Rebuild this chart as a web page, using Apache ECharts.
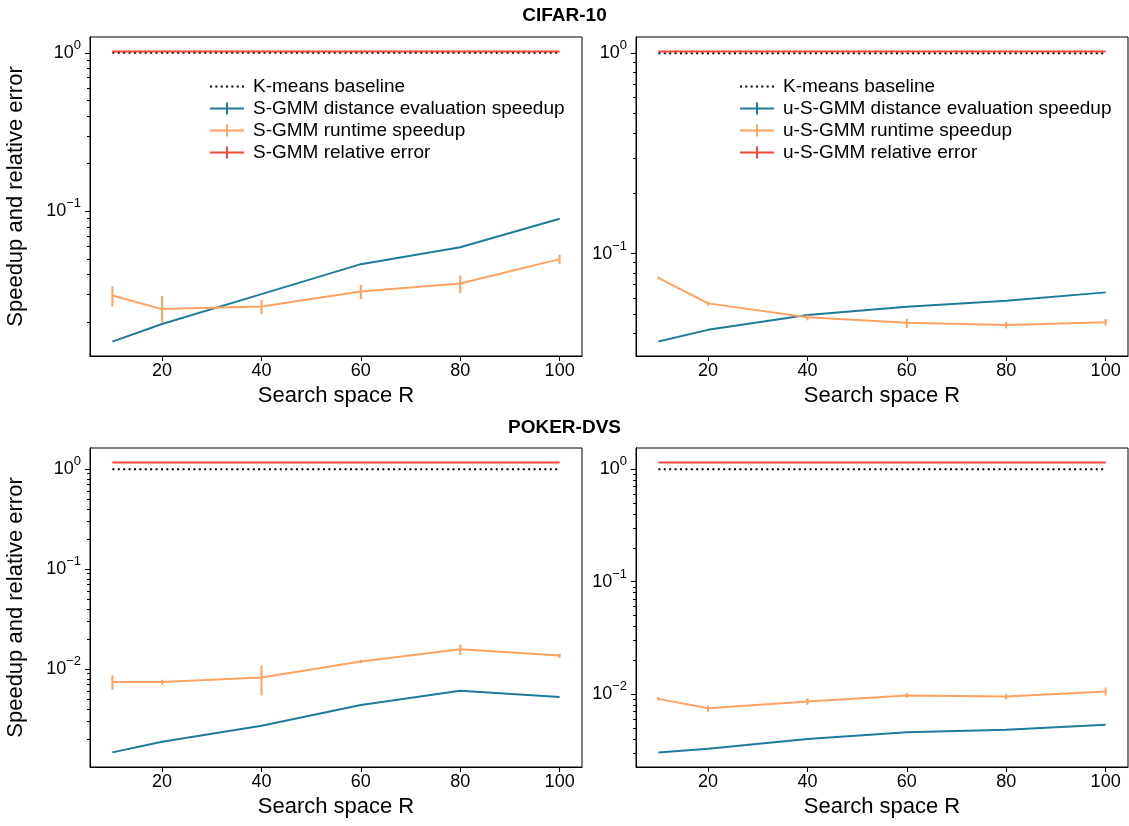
<!DOCTYPE html>
<html><head><meta charset="utf-8">
<script src="https://cdn.jsdelivr.net/npm/echarts@6/dist/echarts.min.js"></script>
<style>html,body{margin:0;padding:0;background:#fff}#c{width:1129px;height:826px}</style>
</head><body><div id="c"></div>
<script>
// ---------- data ----------
const R = [10, 20, 40, 60, 80, 100];
const xTicks = [20, 40, 60, 80, 100];
const yMajorTicks = [0.001, 0.01, 0.1, 1];
const yMinorTicks = [0.002, 0.003, 0.004, 0.005, 0.006, 0.007, 0.008, 0.009,
                     0.02, 0.03, 0.04, 0.05, 0.06, 0.07, 0.08, 0.09,
                     0.2, 0.3, 0.4, 0.5, 0.6, 0.7, 0.8, 0.9];
const baseline = [1, 1, 1, 1, 1, 1];

// CIFAR-10, S-GMM
const cifarSDist = [0.0151, 0.0195, 0.0301, 0.0465, 0.0595, 0.0899];
const cifarSRun = [0.0295, 0.0242, 0.0251, 0.0313, 0.0351, 0.0500];
const cifarSRunLo = [0.0251, 0.0199, 0.0225, 0.0280, 0.0305, 0.0467];
const cifarSRunHi = [0.0337, 0.0293, 0.0276, 0.0344, 0.0394, 0.0533];
const cifarSErr = [1.02, 1.02, 1.02, 1.02, 1.02, 1.02];
// CIFAR-10, u-S-GMM
const cifarUDist = [0.0364, 0.0416, 0.0493, 0.0543, 0.0581, 0.0640];
const cifarURun = [0.0757, 0.0564, 0.0481, 0.0452, 0.0440, 0.0454];
const cifarURunLo = [0.0745, 0.0549, 0.0464, 0.0425, 0.0423, 0.0437];
const cifarURunHi = [0.0769, 0.0577, 0.0495, 0.0473, 0.0455, 0.0471];
const cifarUErr = [1.02, 1.02, 1.02, 1.02, 1.02, 1.02];
// POKER-DVS, S-GMM
const pokerSDist = [0.00147, 0.00188, 0.00272, 0.00437, 0.00608, 0.00525];
const pokerSRun = [0.00742, 0.00742, 0.00826, 0.01193, 0.01584, 0.01369];
const pokerSRunLo = [0.00622, 0.00698, 0.00546, 0.01148, 0.0139, 0.01298];
const pokerSRunHi = [0.00865, 0.00783, 0.01088, 0.01239, 0.0175, 0.01433];
const pokerSErr = [1.166, 1.166, 1.166, 1.166, 1.166, 1.166];
// POKER-DVS, u-S-GMM
const pokerUDist = [0.00303, 0.00327, 0.00399, 0.00460, 0.00482, 0.00535];
const pokerURun = [0.00909, 0.00751, 0.00861, 0.00973, 0.00953, 0.01056];
const pokerURunLo = [0.00877, 0.00697, 0.00804, 0.00927, 0.00897, 0.00973];
const pokerURunHi = [0.00942, 0.00798, 0.00916, 0.01021, 0.01007, 0.01146];
const pokerUErr = [1.146, 1.146, 1.146, 1.146, 1.146, 1.146];

const yRanges = [[0.01225, 1.259], [0.0308, 1.205], [0.00105, 1.627], [0.002254, 1.542]];

// ---------- style ----------
const FONT = '"Liberation Sans", Arial, Helvetica, sans-serif';
const BLUE = '#1f7a9c', ORANGE = '#fea262', RED = '#f3473b', BLACK = '#000';
const grids = [
  {left: 90, top: 37, width: 492, height: 319},
  {left: 636, top: 37, width: 492, height: 319},
  {left: 90, top: 448, width: 492, height: 319},
  {left: 636, top: 448, width: 492, height: 319}
];
const CROSS = 'path://M0,5h34v2h-34z M16,0h2v12h-2z';
const DOTS = 'path://M0,0L0.01,0Z M34,12L34.01,12Z M0,5h2v2h-2z M5.4,5h2v2h-2z M10.8,5h2v2h-2z M16.2,5h2v2h-2z M21.6,5h2v2h-2z M27,5h2v2h-2z M32.4,5h2v2h-2z';

function pairs(a) { return R.map((r, i) => [r, a[i]]); }
function supLabel(v) {
  const e = Math.round(Math.log10(v));
  return '{b|10}{s|' + (e < 0 ? '\u2212' + (-e) : String(e)) + '}';
}

const xAxes = [], yAxes = [], series = [];
const panels = [
  {pre: 'S-GMM', dist: cifarSDist, run: cifarSRun, lo: cifarSRunLo, hi: cifarSRunHi, err: cifarSErr},
  {pre: 'u-S-GMM', dist: cifarUDist, run: cifarURun, lo: cifarURunLo, hi: cifarURunHi, err: cifarUErr},
  {pre: 'S-GMM', dist: pokerSDist, run: pokerSRun, lo: pokerSRunLo, hi: pokerSRunHi, err: pokerSErr},
  {pre: 'u-S-GMM', dist: pokerUDist, run: pokerURun, lo: pokerURunLo, hi: pokerURunHi, err: pokerUErr}
];

panels.forEach((p, i) => {
  xAxes.push({
    type: 'value', gridIndex: i, min: 5.5, max: 104.5,
    name: 'Search space R', nameLocation: 'middle', nameGap: 29,
    nameTextStyle: {fontSize: 22, color: BLACK, fontFamily: FONT},
    axisLine: {lineStyle: {color: BLACK, width: 1}},
    axisTick: {length: 5, lineStyle: {color: BLACK, width: 1}, customValues: xTicks},
    axisLabel: {customValues: xTicks, fontSize: 18, color: BLACK, fontFamily: FONT, margin: 6},
    splitLine: {show: false}
  });
  const yr = yRanges[i];
  yAxes.push({
    type: 'log', gridIndex: i, position: 'left', min: yr[0], max: yr[1], logBase: 10,
    name: (i % 2 === 0) ? 'Speedup and relative error' : '',
    nameLocation: 'middle', nameRotate: 90, nameGap: 63,
    nameTextStyle: {fontSize: 22, color: BLACK, fontFamily: FONT},
    axisLine: {show: true, lineStyle: {color: BLACK, width: 1}},
    axisTick: {length: 5, lineStyle: {color: BLACK, width: 1}, customValues: yMajorTicks},
    axisLabel: {
      customValues: yMajorTicks, margin: 9, color: BLACK, fontFamily: FONT,
      formatter: supLabel,
      rich: {
        b: {fontSize: 18, color: BLACK, fontFamily: FONT},
        s: {fontSize: 13, color: BLACK, fontFamily: FONT, padding: [0, 0, 15, 0]}
      }
    },
    splitLine: {show: false}, minorTick: {show: false}
  });
  yAxes.push({
    type: 'log', gridIndex: i, position: 'left', offset: 0, min: yr[0], max: yr[1], logBase: 10,
    axisLine: {show: true, lineStyle: {color: BLACK, width: 1}},
    axisTick: {show: true, length: 3, lineStyle: {color: BLACK, width: 1}, customValues: yMinorTicks},
    axisLabel: {show: false},
    splitLine: {show: false}
  });
  const yi = 2 * i;
  series.push({
    type: 'line', name: 'K-means baseline', xAxisIndex: i, yAxisIndex: yi,
    data: pairs(baseline), symbol: 'none', silent: true, z: 2,
    lineStyle: {color: BLACK, width: 2, type: [2, 3.4]}, itemStyle: {color: BLACK}
  });
  series.push({
    type: 'line', name: p.pre + ' distance evaluation speedup', xAxisIndex: i, yAxisIndex: yi,
    data: pairs(p.dist), symbol: 'none', silent: true, z: 3,
    lineStyle: {color: BLUE, width: 2}, itemStyle: {color: BLUE}
  });
  series.push({
    type: 'line', name: p.pre + ' runtime speedup', xAxisIndex: i, yAxisIndex: yi,
    data: pairs(p.run), symbol: 'none', silent: true, z: 4,
    lineStyle: {color: ORANGE, width: 2}, itemStyle: {color: ORANGE}
  });
  series.push({
    type: 'custom', name: p.pre + ' runtime speedup', xAxisIndex: i, yAxisIndex: yi, z: 4,
    silent: true, itemStyle: {color: ORANGE},
    data: R.map((r, k) => [r, p.lo[k], p.hi[k]]),
    encode: {x: 0, y: [1, 2]},
    renderItem: function (params, api) {
      const a = api.coord([api.value(0), api.value(1)]);
      const b = api.coord([api.value(0), api.value(2)]);
      return {type: 'line', shape: {x1: a[0], y1: a[1], x2: b[0], y2: b[1]},
              style: {stroke: ORANGE, lineWidth: 2}};
    }
  });
  series.push({
    type: 'line', name: p.pre + ' relative error', xAxisIndex: i, yAxisIndex: yi,
    data: pairs(p.err), symbol: 'none', silent: true, z: 5,
    lineStyle: {color: RED, width: 2}, itemStyle: {color: RED}
  });
});

function legendFor(pre, left) {
  return {
    orient: 'vertical', left: left, top: 72, itemWidth: 34, itemHeight: 12, itemGap: 3,
    selectedMode: false,
    textStyle: {fontSize: 19, color: BLACK, fontFamily: FONT, padding: [0, 0, 0, 4]},
    data: [
      {name: 'K-means baseline', icon: DOTS, itemStyle: {color: BLACK}},
      {name: pre + ' distance evaluation speedup', icon: CROSS, itemStyle: {color: BLUE}},
      {name: pre + ' runtime speedup', icon: CROSS, itemStyle: {color: ORANGE}},
      {name: pre + ' relative error', icon: CROSS, itemStyle: {color: RED}}
    ]
  };
}

const chart = echarts.init(document.getElementById('c'), null, {renderer: 'canvas'});
chart.setOption({
  animation: false,
  backgroundColor: '#fff',
  title: [
    {text: 'CIFAR-10', left: 'center', top: 1, textStyle: {fontSize: 19, fontWeight: 'bold', color: BLACK, fontFamily: FONT}},
    {text: 'POKER-DVS', left: 'center', top: 413, textStyle: {fontSize: 19, fontWeight: 'bold', color: BLACK, fontFamily: FONT}}
  ],
  grid: grids.map(g => Object.assign({show: true, borderColor: BLACK, borderWidth: 1, backgroundColor: 'transparent'}, g)),
  legend: [legendFor('S-GMM', 205), legendFor('u-S-GMM', 735)],
  xAxis: xAxes,
  yAxis: yAxes,
  series: series
});
</script></body></html>
